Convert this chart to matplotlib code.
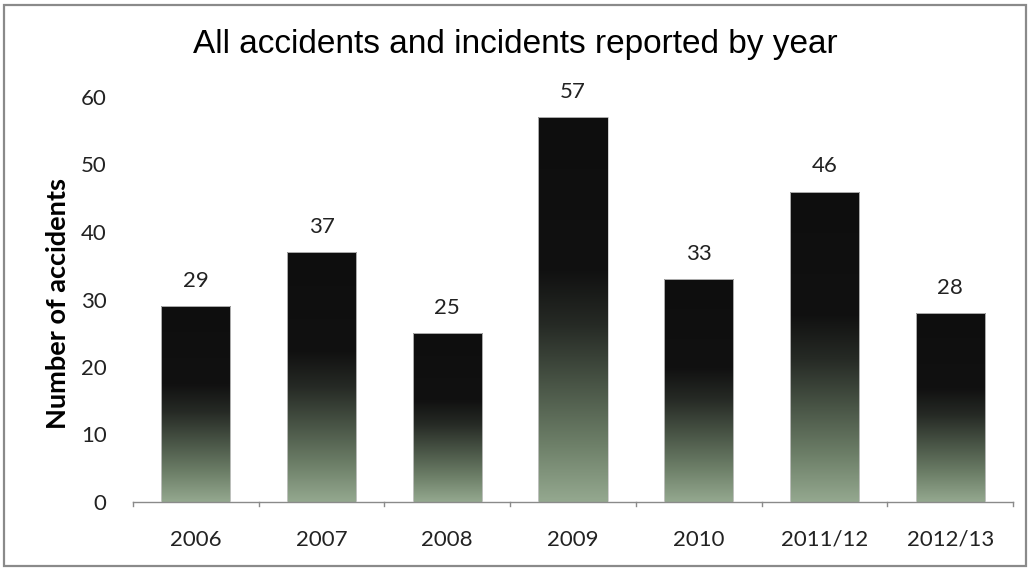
import numpy as np
import matplotlib
matplotlib.use("Agg")
import matplotlib.pyplot as plt
from matplotlib.colors import LinearSegmentedColormap
from matplotlib.patches import Rectangle

categories = ["2006", "2007", "2008", "2009", "2010", "2011/12", "2012/13"]
accidents = [29, 37, 25, 57, 33, 46, 28]
y_ticks = [0, 10, 20, 30, 40, 50, 60]

W, H = 1030, 569
fig = plt.figure(figsize=(W / 100, H / 100), dpi=100)
fig.patch.set_facecolor("white")

# outer chart frame
fig.add_artist(Rectangle((4 / W, 1 - 566 / H), 1022 / W, 561 / H,
                         transform=fig.transFigure, fill=False,
                         edgecolor="#8a8a8a", linewidth=1.6))

left, right, top, bottom = 133, 1013, 97, 502
ax = fig.add_axes([left / W, 1 - bottom / H, (right - left) / W, (bottom - top) / H])

x = np.arange(len(categories))
bars = ax.bar(x, accidents, width=0.55, color="none", edgecolor="#c8c8c8",
              linewidth=0.6, zorder=3)

# vertical fill: near-black top fading to sage green at the base
cmap = LinearSegmentedColormap.from_list("fade", [
    (0.0, "#0e0e0e"), (0.40, "#111111"), (0.54, "#262a25"),
    (0.70, "#4a5647"), (0.85, "#6d7f68"), (1.0, "#94a88f")])
grad = np.linspace(0, 1, 256).reshape(-1, 1)
for b in bars:
    x0, y0 = b.get_x(), b.get_y()
    w, h = b.get_width(), b.get_height()
    im = ax.imshow(grad, cmap=cmap, aspect="auto", origin="upper",
                   extent=(x0, x0 + w, y0, y0 + h), zorder=2,
                   interpolation="bilinear")
    im.set_clip_path(b)

for xi, v in zip(x, accidents):
    ax.annotate(str(v), (xi, v), xytext=(0, 11), textcoords="offset points",
                ha="center", va="bottom", fontsize=16, family="Lato",
                color="#222222")

ax.set_xlim(-0.5, len(categories) - 0.5)
ax.set_ylim(0, 60)
ax.set_yticks(y_ticks)
ax.set_xticks(x)
ax.set_xticklabels(categories)
ax.tick_params(axis="y", length=0, pad=19, labelsize=16, labelcolor="#222222")
ax.tick_params(axis="x", length=0, pad=20, labelsize=16, labelcolor="#222222")
for lab in ax.get_xticklabels() + ax.get_yticklabels():
    lab.set_family("Lato")

# category separator ticks under the axis
for bx in np.arange(-0.5, len(categories), 1.0):
    ax.plot([bx, bx], [0, -0.011], transform=ax.get_xaxis_transform(),
            color="#8a8a8a", lw=1.0, clip_on=False, zorder=4)

for s in ["left", "right", "top"]:
    ax.spines[s].set_visible(False)
ax.spines["bottom"].set_color("#8a8a8a")
ax.spines["bottom"].set_linewidth(1.0)
ax.set_facecolor("white")

ax.set_ylabel("Number of accidents", fontsize=19.5, fontweight="bold",
              family="Lato", color="black")
ax.yaxis.set_label_coords(-63 / (right - left), 0.49)

fig.text(0.5, 1 - 45 / H, "All accidents and incidents reported by year",
         ha="center", va="center", fontsize=24, family="Liberation Sans",
         color="black")

fig.savefig("out.png", dpi=100, facecolor="white")
